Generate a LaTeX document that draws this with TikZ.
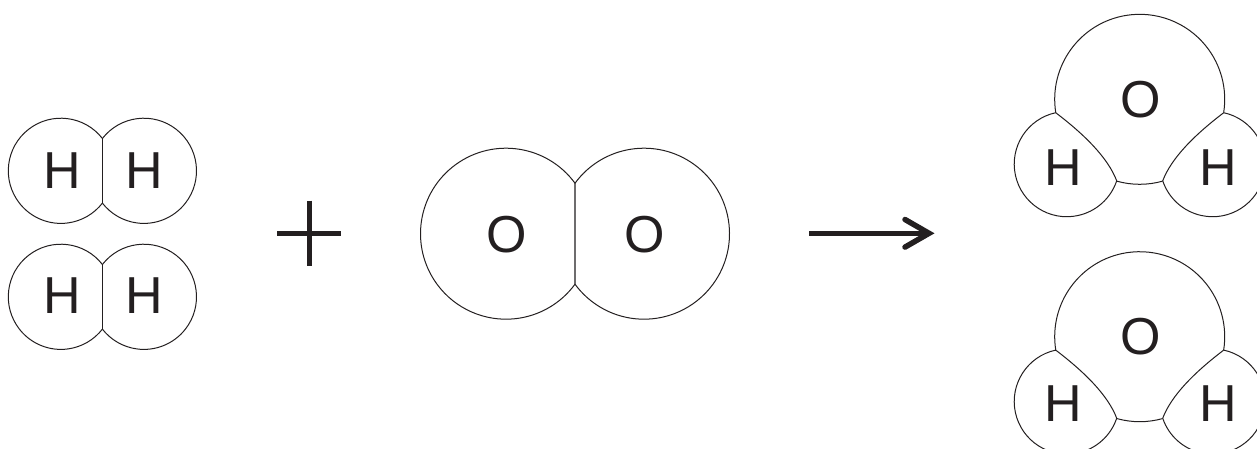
\documentclass[tikz,border=0pt]{standalone}
\usepackage{fontspec}
\setmainfont{Liberation Sans}
\definecolor{ink}{HTML}{231F20}
\definecolor{midline}{HTML}{6E6C6D}
\tikzset{
  atomline/.style={draw=ink,line width=1pt},
  atom/.style={text=ink,inner sep=0pt,anchor=center,xshift=1pt,font=\fontsize{52}{62}\selectfont},
  heavy/.style={draw=ink,line width=5pt},
  shaft/.style={draw=ink,line width=5.5pt},
  wide divider/.style={draw=midline,line width=1.6pt},
}
% diatomic molecule outline: centre x, centre y, half distance, radius, divider style
\newcommand{\diatomic}[5]{%
  \pgfmathsetmacro{\ang}{acos(#3/#4)}%
  \pgfmathsetmacro{\hgt}{#4*sin(\ang)}%
  \pgfmathsetmacro{\enda}{-360+\ang}%
  \pgfmathsetmacro{\startb}{-180+\ang}%
  \pgfmathsetmacro{\endb}{180-\ang}%
  \draw[#5] (#1,#2-\hgt) -- (#1,#2+\hgt);
  \draw[atomline] (#1,#2-\hgt) arc[start angle=-\ang,end angle=\enda,radius=#4];
  \draw[atomline] (#1,#2-\hgt) arc[start angle=\startb,end angle=\endb,radius=#4];
}
% water molecule outline, in the coordinates of the upper molecule
\newcommand{\wateroutline}{%
  \draw[atomline] ([shift={(1139.7,99.3)}]171:85) arc[start angle=171,end angle=369,radius=85];
  \draw[atomline] ([shift={(1139.7,99.3)}]105.6:85) arc[start angle=105.6,end angle=74.4,radius=85];
  \draw[atomline] (1055.7,112.7) arc[start angle=257.8,end angle=18.5,radius=52.6]
     .. controls (1108,158) and (1085,135) .. (1055.7,112.7);
  \draw[atomline] (1223.7,112.7) arc[start angle=-77.8,end angle=161.5,radius=52.6]
     .. controls (1171.4,158) and (1194.4,135) .. (1223.7,112.7);
}
\begin{document}
\begin{tikzpicture}[x=1pt,y=-1pt]
\path[use as bounding box,clip] (0,0) rectangle (1257,448);
% hydrogen molecules
\diatomic{102.4}{170.8}{41.5}{52.6}{atomline}
\diatomic{102.4}{296.8}{41.5}{52.6}{atomline}
\node[atom] (h1) at (61,170.5) {H};
\node[atom] (h2) at (143.7,170.5) {H};
\node[atom] (h3) at (61,296) {H};
\node[atom] (h4) at (143.7,296) {H};
% plus
\coordinate (pl) at (277,233.3);
\coordinate (pr) at (341,233.3);
\coordinate (pt) at (309,200.7);
\coordinate (pb) at (309,265.7);
\draw[heavy] (pl) -- (pr);
\draw[heavy] (pt) -- (pb);
% oxygen molecule
\diatomic{575}{233.7}{69}{85.5}{wide divider}
\node[atom] (o1) at (506,235) {O};
\node[atom] (o2) at (644,235) {O};
% arrow
\coordinate (as) at (809,233.3);
\coordinate (at) at (929,233.3);
\coordinate (b1) at (905,219.5);
\coordinate (b2) at (905,247.1);
\draw[shaft] (as) -- (at);
\draw[shaft,line cap=round,miter limit=10] (b1) -- (at) -- (b2);
% water molecules
\wateroutline
\node[atom] (o3) at (1139.3,100) {O};
\node[atom] (h5) at (1062,168) {H};
\node[atom] (h6) at (1217,168) {H};
\begin{scope}[shift={(0,237.4)}]
\wateroutline
\node[atom] (o4) at (1139.3,99.3) {O};
\node[atom] (h7) at (1062,166.6) {H};
\node[atom] (h8) at (1217,166.6) {H};
\end{scope}
\end{tikzpicture}
\end{document}
